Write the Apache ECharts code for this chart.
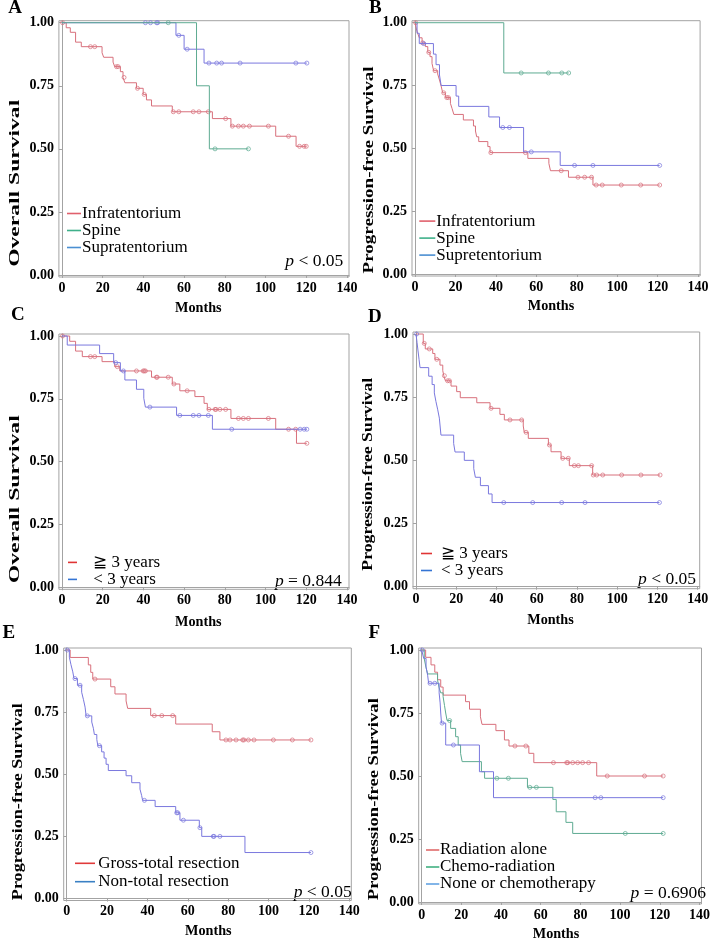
<!DOCTYPE html>
<html><head><meta charset="utf-8">
<script src="https://cdn.jsdelivr.net/npm/echarts@6/dist/echarts.min.js"></script>
<style>html,body{margin:0;padding:0;background:#fff}#c{width:713px;height:940px}</style>
</head><body><div id="c"></div>
<script>
// ---------- tick labels ----------
const xTicks = [0, 20, 40, 60, 80, 100, 120, 140];
const yTicks = [0, 0.25, 0.5, 0.75, 1];

// ---------- Panel A : Overall survival by location ----------
const A_inf_t = [0,2.1,4.1,6.7,9.5,19.7,20.5,25.1,25.9,28.7,30.0,30.9,36.6,39.9,41.5,44.0,54.2,73.9,83.0,105.0,115.0];
const A_inf_s = [1,0.98,0.962,0.923,0.905,0.881,0.863,0.844,0.826,0.806,0.783,0.762,0.74,0.716,0.694,0.67,0.647,0.62,0.59,0.55,0.51];
const A_inf_c = [0.3,14.0,16.1,26.8,27.6,30.5,37.1,40.4,54.7,57.4,64.5,67.3,71.9,80.4,83.7,86.7,89.1,92.1,101.4,111.3,116.7,119.0,120.0];
const A_inf_end = 120;
const A_spi_t = [0,66.1,72.4];
const A_spi_s = [1,0.75,0.5];
const A_spi_c = [52.2,75.2,91.6];
const A_spi_end = 91.6;
const A_sup_t = [0,56.0,60.0,69.8];
const A_sup_s = [1,0.95,0.895,0.84];
const A_sup_c = [41.0,43.5,46.5,47.0,57.4,61.5,72.2,76.0,78.4,87.5,114.9,120.3];
const A_sup_end = 120.3;

// ---------- Panel B : PFS by location ----------
const B_inf_t = [0,0.8,1.3,2.1,3.5,5.1,6.3,7.4,8.4,9.2,11.2,12.1,12.9,13.7,15.0,17.5,18.3,19.2,23.9,28.9,29.9,30.5,31.5,36.0,37.1,55.8,66.2,67.0,75.9,88.0];
const B_inf_s = [1,0.971,0.958,0.94,0.92,0.905,0.882,0.865,0.838,0.809,0.796,0.772,0.748,0.721,0.702,0.679,0.659,0.635,0.613,0.589,0.569,0.546,0.527,0.507,0.483,0.46,0.44,0.411,0.385,0.354];
const B_inf_c = [0.3,3.8,6.8,9.9,14.2,15.7,16.5,37.5,54.6,72.3,80.6,83.9,87.3,89.6,92.6,102,111.6,121];
const B_inf_end = 121;
const B_spi_t = [0,43.9];
const B_spi_s = [1,0.8];
const B_spi_c = [52.5,66.0,72.6,76.0];
const B_spi_end = 76;
const B_sup_t = [0,1.0,2.1,9.1,10.4,12.1,12.9,20.3,21.6,36.5,41.8,53.7,71.8];
const B_sup_s = [1,0.958,0.917,0.875,0.833,0.792,0.75,0.708,0.667,0.625,0.583,0.486,0.432];
const B_sup_c = [4.3,43.4,46.7,57.5,78.9,88.0,121];
const B_sup_end = 121;

// ---------- Panel C : OS by age ----------
const C_ge_t = [0,3.8,6.7,10.0,19.7,25.9,28.4,44.0,54.2,57.9,65.3,69.8,71.4,83.0,105.0,115.2];
const C_ge_s = [1,0.979,0.94,0.918,0.898,0.878,0.861,0.836,0.809,0.782,0.759,0.732,0.708,0.672,0.629,0.573];
const C_ge_c = [0.3,14.0,16.1,27.2,36.6,39.9,40.4,41.0,46.4,46.8,52.2,55.0,61.5,72.2,75.2,75.7,77.6,80.4,86.7,89.1,91.6,101.4,111.3,114.8,120.3];
const C_ge_end = 120.3;
const C_lt_t = [0,2.6,18.5,25.4,28.7,30.9,36.6,40.2,41.0,56.3,73.9];
const C_lt_s = [1,0.964,0.93,0.894,0.861,0.825,0.788,0.752,0.717,0.684,0.629];
const C_lt_c = [26.4,30.2,43.2,57.9,64.5,67.3,71.9,83.4,117.0,119.0,120.3];
const C_lt_end = 120.3;

// ---------- Panel D : PFS by age ----------
const D_ge_t = [0,3.6,4.6,8.3,9.4,11.9,13.3,13.8,14.6,17.4,20.2,22.0,30.2,36.8,41.7,43.9,53.3,53.8,55.8,65.8,67.1,72.1,76.2,87.8];
const D_ge_s = [1,0.963,0.941,0.923,0.9,0.877,0.855,0.835,0.815,0.794,0.772,0.748,0.728,0.706,0.682,0.66,0.636,0.611,0.587,0.561,0.534,0.508,0.479,0.442];
const D_ge_c = [4.1,6.6,10.3,14.1,15.7,16.6,37.3,46.7,52.5,54.7,66.3,72.9,75.7,78.7,80.7,87.3,88.1,89.8,92.8,102.2,111.8,121.3];
const D_ge_end = 121.3;
const D_lt_t = [0,0.5,1.0,1.5,2.0,6.3,8.0,9.1,9.9,10.8,11.6,12.4,18.7,19.4,24.0,28.7,29.5,32.0,36.0,37.8];
const D_lt_s = [1,0.967,0.933,0.9,0.867,0.833,0.8,0.767,0.733,0.7,0.667,0.6,0.567,0.533,0.5,0.467,0.433,0.4,0.367,0.333];
const D_lt_c = [0.3,43.6,58.0,72.4,84.0,121];
const D_lt_end = 121;

// ---------- Panel E : PFS by resection ----------
const E_gt_t = [0,1.7,10.7,11.9,12.9,21.8,23.9,29.4,30.2,41.6,54.0,72.1,75.9];
const E_gt_s = [1,0.97,0.94,0.91,0.883,0.852,0.823,0.795,0.765,0.736,0.702,0.671,0.638];
const E_gt_c = [14.0,43.4,47.1,52.5,78.9,80.9,83.9,87.2,87.8,90.0,92.8,102.4,111.8,121.0];
const E_gt_end = 121;
const E_nt_t = [0,1.3,2.1,3.0,3.6,5.3,7.4,8.3,9.1,9.6,12.4,13.2,13.7,14.9,15.4,17.3,18.5,19.5,20.6,29.4,32.2,36.3,37.1,37.6,43.8,54.0,56.1,65.7,66.9,88.3];
const E_nt_s = [1,0.971,0.941,0.912,0.885,0.858,0.83,0.8,0.77,0.735,0.71,0.685,0.66,0.64,0.615,0.59,0.565,0.54,0.515,0.494,0.466,0.44,0.415,0.395,0.37,0.345,0.315,0.285,0.25,0.185];
const E_nt_c = [0.3,4.1,6.6,10.2,16.2,38.5,54.5,55.0,57.8,66.0,72.6,73.0,75.9,121];
const E_nt_end = 121;

// ---------- Panel F : PFS by adjuvant therapy ----------
const F_rad_t = [0,2.0,4.7,6.6,8.0,9.6,10.8,22.1,24.1,29.6,30.4,37.4,41.7,44.0,54.0,56.5,88.2];
const F_rad_s = [1,0.971,0.941,0.912,0.882,0.853,0.821,0.795,0.765,0.735,0.705,0.68,0.643,0.619,0.59,0.553,0.5];
const F_rad_c = [47.0,52.5,66.4,73.1,73.6,76.1,78.6,81.1,84.1,93.5,112.3,121.7];
const F_rad_end = 121.7;
const F_che_t = [0,1.3,2.2,3.0,8.0,8.8,9.6,10.8,11.5,12.1,12.8,14.6,17.1,18.4,19.6,20.4,30.1,31.7,53.3,66.1,67.8,72.7,76.1];
const F_che_s = [1,0.965,0.93,0.905,0.88,0.85,0.83,0.815,0.78,0.75,0.72,0.689,0.656,0.623,0.59,0.557,0.517,0.491,0.455,0.407,0.358,0.316,0.272];
const F_che_c = [14.1,37.9,43.7,54.5,57.8,102.6,121.7];
const F_che_end = 121.7;
const F_non_t = [0,1.0,2.2,3.0,3.5,8.8,9.3,9.6,10.0,12.1,29.1,36.2];
const F_non_s = [1,0.967,0.933,0.9,0.868,0.83,0.79,0.75,0.71,0.623,0.517,0.414];
const F_non_c = [0.3,4.2,6.6,10.3,16.0,87.4,90.3,121.7];
const F_non_end = 121.7;

// ---------- styling ----------
const SERIF = '"Liberation Serif", "Times New Roman", serif';
const RED = '#d8707c', GREEN = '#5eab92', BLUE = '#7a78de';
const FRAME = '#a3a3a3';

const panels = [
  { letter:'A', letterPos:[15,8.5], grid:{left:58.9, top:20.7, width:290.1, height:256.3},
    yTitle:'Overall Survival', yTitlePos:[15.3,183.3], yTitleLen:167, xTitlePos:[198.3,308.3],
    p:'{i|p} < 0.05', pPos:[343.3,261.5],
    curves:[
      {name:'Infratentorium', t:A_inf_t, s:A_inf_s, c:A_inf_c, end:A_inf_end, color:RED},
      {name:'Supratentorium', t:A_sup_t, s:A_sup_s, c:A_sup_c, end:A_sup_end, color:BLUE},
      {name:'Spine', t:A_spi_t, s:A_spi_s, c:A_spi_c, end:A_spi_end, color:GREEN}],
    legend:{left:67, top:205, iw:14, lh:16.7, pad:-4,
      items:[['Infratentorium','#e0606c'],['Spine','#3fb08a'],['Supratentorium','#4b8fd2']]} },
  { letter:'B', letterPos:[375.3,8.5], grid:{left:412.0, top:20.7, width:288.1, height:255.3},
    yTitle:'Progression-free Survival', yTitlePos:[368.8,170], yTitleLen:207, xTitlePos:[551,306],
    p:null,
    curves:[
      {name:'Infratentorium', t:B_inf_t, s:B_inf_s, c:B_inf_c, end:B_inf_end, color:RED},
      {name:'Supretentorium', t:B_sup_t, s:B_sup_s, c:B_sup_c, end:B_sup_end, color:BLUE},
      {name:'Spine', t:B_spi_t, s:B_spi_s, c:B_spi_c, end:B_spi_end, color:GREEN}],
    legend:{left:419.3, top:212.6, iw:16, lh:16.7, pad:-4,
      items:[['Infratentorium','#e0606c'],['Spine','#3fb08a'],['Supretentorium','#4b8fd2']]} },
  { letter:'C', letterPos:[17.8,315.3], grid:{left:58.9, top:334.0, width:290.1, height:255.3},
    yTitle:'Overall Survival', yTitlePos:[15.3,499.2], yTitleLen:168, xTitlePos:[198.3,622.3],
    p:'{i|p} = 0.844', pPos:[341.7,581.5],
    curves:[
      {name:'≧ 3 years', t:C_ge_t, s:C_ge_s, c:C_ge_c, end:C_ge_end, color:RED},
      {name:'< 3 years', t:C_lt_t, s:C_lt_s, c:C_lt_c, end:C_lt_end, color:BLUE}],
    legend:{left:68, top:553.9, iw:9, lh:15.6, pad:11.3,
      items:[['≧ 3 years','#e03434'],['< 3 years','#3474d4']]} },
  { letter:'D', letterPos:[374.8,317.3], grid:{left:413.0, top:332.0, width:286.7, height:256.7},
    yTitle:'Progression-free Survival', yTitlePos:[367.7,474.2], yTitleLen:193, xTitlePos:[550.5,620],
    p:'{i|p} < 0.05', pPos:[696,579.3],
    curves:[
      {name:'≧ 3 years', t:D_ge_t, s:D_ge_s, c:D_ge_c, end:D_ge_end, color:RED},
      {name:'< 3 years', t:D_lt_t, s:D_lt_s, c:D_lt_c, end:D_lt_end, color:BLUE}],
    legend:{left:421, top:545, iw:11, lh:16.7, pad:4,
      items:[['≧ 3 years','#e03434'],['< 3 years','#3474d4']]} },
  { letter:'E', letterPos:[8.8,632.7], grid:{left:63.7, top:648.0, width:287.6, height:252.5},
    yTitle:'Progression-free Survival', yTitlePos:[17.8,801.7], yTitleLen:197, xTitlePos:[208.3,931.5],
    p:'{i|p} < 0.05', pPos:[351.7,892.7],
    curves:[
      {name:'Gross-total resection', t:E_gt_t, s:E_gt_s, c:E_gt_c, end:E_gt_end, color:RED},
      {name:'Non-total resection', t:E_nt_t, s:E_nt_s, c:E_nt_c, end:E_nt_end, color:BLUE}],
    legend:{left:75, top:854.1, iw:20, lh:18.4, pad:-1.7,
      items:[['Gross-total resection','#e03a3a'],['Non-total resection','#3a80c4']]} },
  { letter:'F', letterPos:[374.3,633.3], grid:{left:418.7, top:648.0, width:286.0, height:256.0},
    yTitle:'Progression-free Survival', yTitlePos:[373.8,799.2], yTitleLen:202, xTitlePos:[556,934],
    p:'{i|p} = 0.6906', pPos:[706,893.3],
    curves:[
      {name:'Radiation alone', t:F_rad_t, s:F_rad_s, c:F_rad_c, end:F_rad_end, color:RED},
      {name:'Chemo-radiation', t:F_che_t, s:F_che_s, c:F_che_c, end:F_che_end, color:GREEN},
      {name:'None or chemotherapy', t:F_non_t, s:F_non_s, c:F_non_c, end:F_non_end, color:BLUE}],
    legend:{left:426, top:841.5, iw:13.3, lh:17, pad:-4.3,
      items:[['Radiation alone','#e06a6a'],['Chemo-radiation','#40b080'],['None or chemotherapy','#62a2e2']]} }
];

// ---------- helpers ----------
function kmData(t, s, end) {
  const d = t.map((x, i) => [x, s[i]]);
  d.push([end, s[s.length - 1]]);
  return d;
}
function censorData(t, s, c) {
  return c.map(ct => {
    let v = s[0];
    for (let i = 0; i < t.length; i++) { if (t[i] <= ct) v = s[i]; }
    return [ct, v];
  });
}
const mctx = document.createElement('canvas').getContext('2d');
function textWidth(text, font) { mctx.font = font; return mctx.measureText(text).width; }

const grids = [], xAxes = [], yAxes = [], series = [], legends = [], graphics = [];
const labelStyle = { fontFamily: SERIF, fontWeight: 'bold', fontSize: 14, color: '#000' };
const TITLE_FONT = 'bold 15px ' + SERIF;

panels.forEach((p, i) => {
  grids.push(Object.assign({ show: true, borderColor: FRAME, borderWidth: 1, backgroundColor: 'transparent' }, p.grid));
  xAxes.push({
    type: 'value', gridIndex: i, min: -1.5, max: 141,
    axisLine: { show: true, lineStyle: { color: FRAME, width: 1 } },
    axisTick: { show: true, length: 3, customValues: xTicks, lineStyle: { color: FRAME } },
    axisLabel: Object.assign({ customValues: xTicks, margin: 4 }, labelStyle),
    splitLine: { show: false }
  });
  yAxes.push({
    type: 'value', gridIndex: i, min: -0.008, max: 1.008,
    axisLine: { show: true, lineStyle: { color: FRAME, width: 1 } },
    axisTick: { show: true, length: 3, customValues: yTicks, lineStyle: { color: FRAME } },
    axisLabel: Object.assign({ customValues: yTicks, margin: 5, formatter: v => Number(v).toFixed(2) }, labelStyle),
    splitLine: { show: false }
  });
  p.curves.forEach((cv, k) => {
    series.push({
      type: 'line', name: cv.name, xAxisIndex: i, yAxisIndex: i, step: 'end',
      data: kmData(cv.t, cv.s, cv.end), symbol: 'none', silent: true,
      lineStyle: { width: 1, color: cv.color }, itemStyle: { color: cv.color }, z: 2 + k
    });
    series.push({
      type: 'scatter', name: 'censor-' + p.letter + k, xAxisIndex: i, yAxisIndex: i,
      data: censorData(cv.t, cv.s, cv.c), symbol: 'circle', symbolSize: 4, silent: true,
      itemStyle: { color: 'rgba(255,255,255,0)', borderColor: cv.color, borderWidth: 0.9 }, z: 2 + k
    });
  });
  const L = p.legend;
  legends.push({
    show: true, orient: 'vertical', left: L.left, top: L.top, padding: 0, itemGap: 0,
    itemWidth: L.iw, itemHeight: 1.6, icon: 'rect', selectedMode: false,
    data: L.items.map(it => ({ name: it[0], icon: 'rect', itemStyle: { color: it[1] } })),
    textStyle: { fontFamily: SERIF, fontSize: 17, color: '#000', lineHeight: L.lh, padding: [0, 0, 0, L.pad] }
  });
  // panel letter
  graphics.push({ type: 'text', x: p.letterPos[0], y: p.letterPos[1], silent: true,
    style: { text: p.letter, font: 'bold 19px ' + SERIF, fill: '#000', align: 'center', verticalAlign: 'middle' } });
  // x title
  graphics.push({ type: 'text', x: p.xTitlePos[0], y: p.xTitlePos[1], silent: true,
    style: { text: 'Months', font: 'bold 14.2px ' + SERIF, fill: '#000', align: 'center', verticalAlign: 'middle' } });
  // y title (stretched along its length like the original)
  const w = textWidth(p.yTitle, TITLE_FONT);
  graphics.push({ type: 'text', x: p.yTitlePos[0], y: p.yTitlePos[1], rotation: Math.PI / 2,
    scaleX: p.yTitleLen / w, scaleY: 1, silent: true,
    style: { text: p.yTitle, font: TITLE_FONT, fill: '#000', align: 'center', verticalAlign: 'middle' } });
  if (p.p) {
    graphics.push({ type: 'text', x: p.pPos[0], y: p.pPos[1], silent: true,
      style: { text: p.p, fontFamily: SERIF, fontSize: 17.5, fill: '#000', align: 'right', verticalAlign: 'middle',
        rich: { i: { fontFamily: SERIF, fontSize: 17.5, fontStyle: 'italic', fill: '#000' } } } });
  }
});

const chart = echarts.init(document.getElementById('c'), null, { renderer: 'canvas', width: 713, height: 940 });
chart.setOption({
  animation: false,
  backgroundColor: '#fff',
  grid: grids, xAxis: xAxes, yAxis: yAxes, series: series, legend: legends, graphic: graphics
});
</script></body></html>
